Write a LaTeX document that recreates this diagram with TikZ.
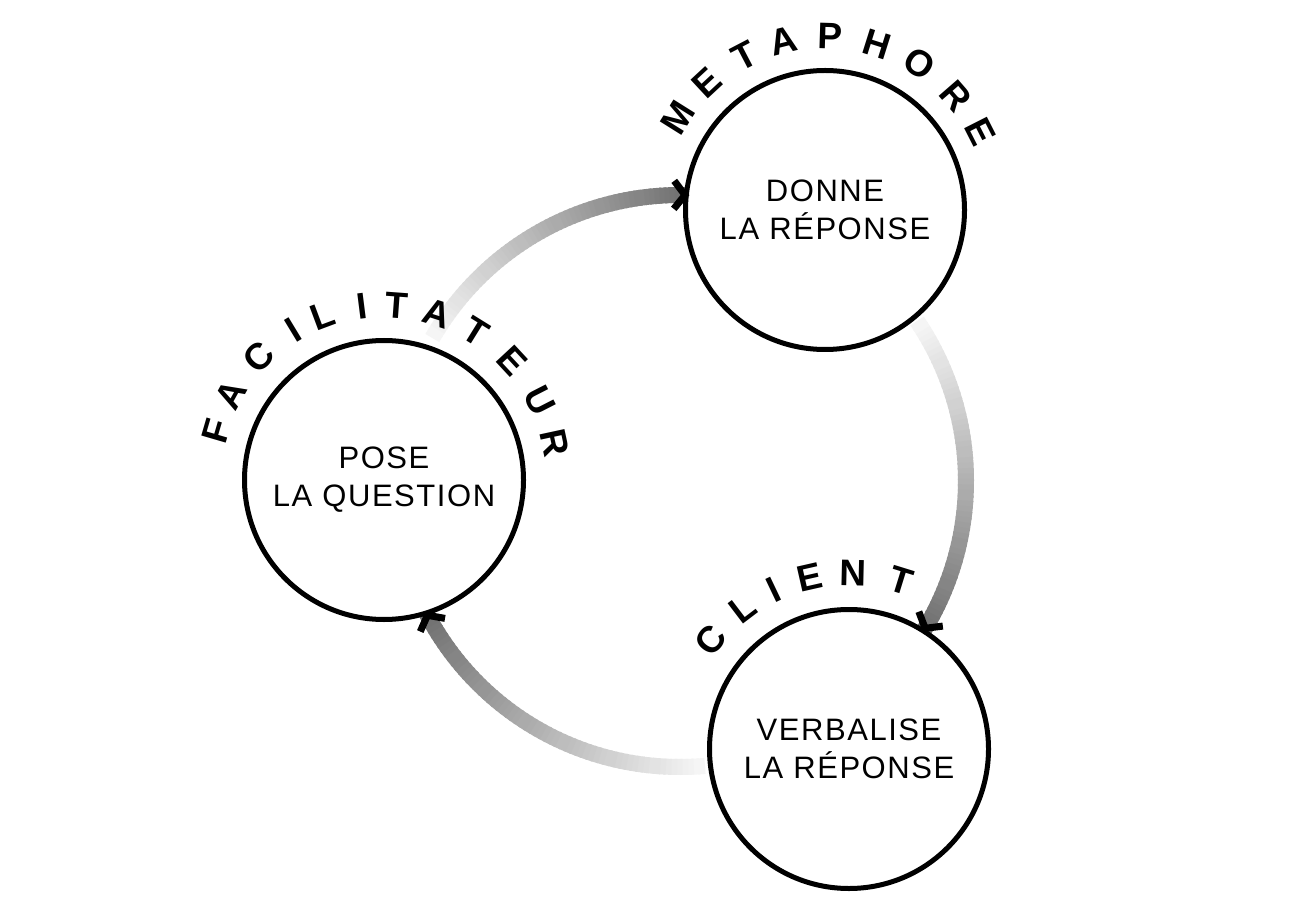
\documentclass[tikz,border=0pt]{standalone}
\usepackage{fontspec}
\setmainfont{Liberation Sans}
\newfontfamily\bodyf[LetterSpace=5]{Liberation Sans}
\newfontfamily\arcf{Liberation Sans}
\newcommand\gradarc[2]{%
  \foreach \i in {0,...,59}{%
    \pgfmathsetmacro\aa{#1+(#2-#1)*\i/60}%
    \pgfmathsetmacro\bb{#1+(#2-#1)*(\i+1.4)/60}%
    \pgfmathtruncatemacro\cc{4+52*\i/59}%
    \draw[line width=16, black!\cc, line cap=butt] ([shift={(\aa:286)}]O) arc[start angle=\aa, end angle=\bb, radius=286];
  }%
}
\newcommand\barbtip[1]{%
  \begin{scope}[shift={(O)}, rotate=#1]
    \draw[line width=7, black, line join=miter, line cap=butt] (286-14,11) -- (286,0) -- (286+14,11);
  \end{scope}%
}
\begin{document}
\begin{tikzpicture}[x=1pt,y=1pt,
  ring/.style={circle, draw=black, line width=5pt, minimum size=279pt, inner sep=0pt, fill=white,
     align=center, font=\bodyf\fontsize{31}{38}\selectfont},
  lbl/.style={inner sep=0pt, anchor=center, font=\arcf\bfseries\fontsize{37}{37}\selectfont}]
\useasboundingbox (0,0) rectangle (1297,914);
\fill[white] (0,0) rectangle (1297,914);
\coordinate (O) at (680,433);

\gradarc{150}{89}
\gradarc{34}{-31}
\gradarc{-85}{-152}

\node[ring] (fac) at (384,434) {POSE\\LA QUESTION};
\node[ring] (met) at (825,704) {DONNE\\LA RÉPONSE};
\node[ring] (cli) at (849,165) {VERBALISE\\LA RÉPONSE};

\barbtip{89}
\barbtip{-31}
\barbtip{-152}

\foreach \ch/\ang in {F/163.7, A/150.9, C/135.5, I/121.2, L/110.5, I/97.2, T/85.8, A/72.2, T/58.2, E/42.9, U/27.1, R/12.2}
  \node[lbl, rotate=\ang-90] at ([shift={(\ang:175)}]fac.center) {\ch};
\foreach \ch/\ang in {M/147.9, E/132.9, T/117.6, A/104, P/88.3, H/72.5, O/57.1, R/41, E/26.9}
  \node[lbl, rotate=\ang-90] at ([shift={(\ang:174)}]met.center) {\ch};
\foreach \ch/\ang in {C/141.9, L/127.2, I/115.5, E/102.8, N/88.7, T/72.8}
  \node[lbl, rotate=\ang-90] at ([shift={(\ang:176)}]cli.center) {\ch};
\end{tikzpicture}
\end{document}
